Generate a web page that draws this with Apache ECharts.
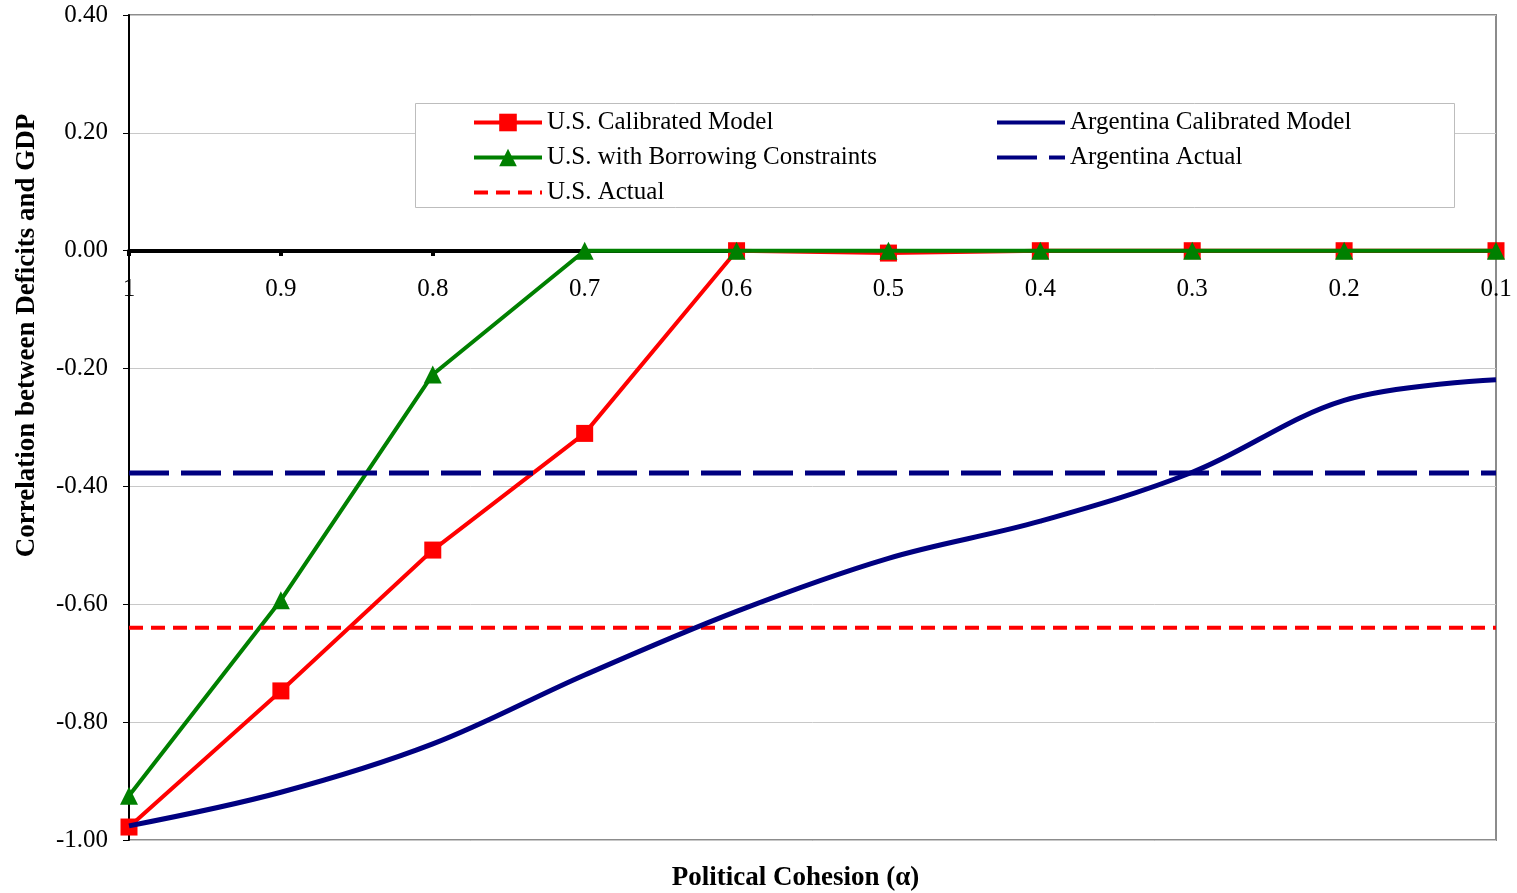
<!DOCTYPE html>
<html>
<head>
<meta charset="utf-8">
<script src="https://cdn.jsdelivr.net/npm/echarts@6/dist/echarts.min.js"></script>
<style>html,body{margin:0;padding:0;background:#fff;}#chart{width:1517px;height:893px;}</style>
</head>
<body>
<div id="chart"></div>
<script>
const categories = ['1', '0.9', '0.8', '0.7', '0.6', '0.5', '0.4', '0.3', '0.2', '0.1'];
const usCalibrated = [-0.978, -0.747, -0.508, -0.31, 0.0, -0.004, 0.0, 0.0, 0.0, 0.0];
const usBorrowing = [-0.925, -0.593, -0.21, 0.0, 0.0, 0.0, 0.0, 0.0, 0.0, 0.0];
const usActual = [-0.64, -0.64, -0.64, -0.64, -0.64, -0.64, -0.64, -0.64, -0.64, -0.64];
const argCalibrated = [-0.976, -0.919, -0.837, -0.72, -0.612, -0.522, -0.459, -0.376, -0.254, -0.219];
const argActual = [-0.377, -0.377, -0.377, -0.377, -0.377, -0.377, -0.377, -0.377, -0.377, -0.377];
const yTicks = { min: -1.0, max: 0.4, interval: 0.2 };

const FONT = '"Liberation Serif", "Times New Roman", serif';
const RED = '#ff0000', GREEN = '#008000', NAVY = '#000080';

const chart = echarts.init(document.getElementById('chart'), null, { renderer: 'canvas' });
const legendText = { fontFamily: FONT, fontSize: 25, color: '#000' };
chart.setOption({
  animation: false,
  backgroundColor: '#fff',
  textStyle: { fontFamily: FONT },
  grid: { left: 129, right: 21, top: 15, bottom: 53, containLabel: false, outerBoundsMode: 'none',
    show: true, borderColor: '#8c8c8c', borderWidth: 2, backgroundColor: 'transparent' },
  graphic: [{
    type: 'rect', left: 415, top: 103, z: 50,
    shape: { width: 1039, height: 104 },
    style: { fill: '#fff', stroke: '#bdbdbd', lineWidth: 1 }
  }],
  legend: [{
    z: 60, left: 467, top: 105, orient: 'vertical', itemWidth: 68, itemHeight: 22, itemGap: 10,
    textStyle: legendText,
    data: [
      { name: 'U.S. Calibrated Model', lineStyle: { width: 4 } },
      { name: 'U.S. with Borrowing Constraints', lineStyle: { width: 4 } },
      { name: 'U.S. Actual', lineStyle: { width: 4 }, itemStyle: { opacity: 0 } }
    ]
  }, {
    z: 60, left: 990, top: 105, orient: 'vertical', itemWidth: 68, itemHeight: 22, itemGap: 10,
    textStyle: legendText,
    data: [
      { name: 'Argentina Calibrated Model', lineStyle: { width: 4 }, itemStyle: { opacity: 0 } },
      { name: 'Argentina Actual', lineStyle: { width: 4 }, itemStyle: { opacity: 0 } }
    ]
  }],
  xAxis: {
    type: 'category', data: categories, boundaryGap: false,
    position: 'bottom', offset: -589,
    name: 'Political Cohesion (α)', nameLocation: 'middle', nameGap: 614,
    nameTextStyle: { fontFamily: FONT, fontSize: 27, fontWeight: 'bold', color: '#000', padding: [0, 34, 0, 0] },
    axisLine: { onZero: false, lineStyle: { color: '#000', width: 4 } },
    axisTick: { show: true, alignWithLabel: true, length: 5, lineStyle: { color: '#000', width: 4 } },
    axisLabel: { fontFamily: FONT, fontSize: 25, color: '#000', margin: 26 },
    splitLine: { show: false }
  },
  yAxis: {
    type: 'value', min: yTicks.min, max: yTicks.max, interval: yTicks.interval,
    name: 'Correlation between Deficits and GDP', nameLocation: 'middle', nameGap: 88,
    nameTextStyle: { fontFamily: FONT, fontSize: 27, fontWeight: 'bold', color: '#000', padding: [0, 0, 0, 184] },
    axisLine: { show: true, lineStyle: { color: '#000', width: 2 } },
    axisTick: { show: true, inside: false, length: 6, lineStyle: { color: '#000', width: 1 } },
    axisLabel: { fontFamily: FONT, fontSize: 25, color: '#000', margin: 21, formatter: v => v.toFixed(2) },
    splitLine: { show: true, lineStyle: { color: '#c8c8c8', width: 1 } }
  },
  series: [
    { name: 'U.S. Calibrated Model', type: 'line', data: usCalibrated, symbol: 'rect', symbolSize: 17,
      itemStyle: { color: RED }, lineStyle: { color: RED, width: 4 }, z: 3 },
    { name: 'U.S. with Borrowing Constraints', type: 'line', data: usBorrowing, symbol: 'triangle', symbolSize: 18,
      itemStyle: { color: GREEN }, lineStyle: { color: GREEN, width: 4 }, z: 4 },
    { name: 'U.S. Actual', type: 'line', data: usActual, symbol: 'none', showSymbol: false,
      itemStyle: { color: RED }, lineStyle: { color: RED, width: 4, type: [14, 8] }, z: 5 },
    { name: 'Argentina Calibrated Model', type: 'line', data: argCalibrated, symbol: 'none', showSymbol: false, smooth: 0.35,
      itemStyle: { color: NAVY }, lineStyle: { color: NAVY, width: 5 }, z: 6 },
    { name: 'Argentina Actual', type: 'line', data: argActual, symbol: 'none', showSymbol: false,
      itemStyle: { color: NAVY }, lineStyle: { color: NAVY, width: 5, type: [40, 12] }, z: 5 }
  ]
});
</script>
</body>
</html>
